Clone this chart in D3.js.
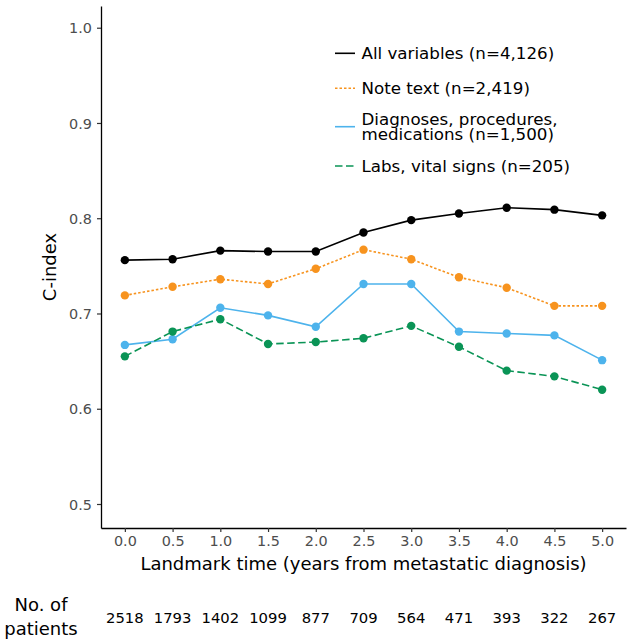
<!DOCTYPE html>
<html>
<head>
<meta charset="utf-8">
<script src="https://cdn.jsdelivr.net/npm/d3@7"></script>
<style>
  body { margin: 0; background: #fff; }
  text { font-family: "DejaVu Sans", sans-serif; }
</style>
</head>
<body>
<div id="chart"></div>
<script>
// landmark times (years) and patients at risk
var landmarks = [0, 0.5, 1, 1.5, 2, 2.5, 3, 3.5, 4, 4.5, 5];
var patients = [2518, 1793, 1402, 1099, 877, 709, 564, 471, 393, 322, 267];

// C-index per model
var allVars   = [0.756, 0.757, 0.766, 0.765, 0.765, 0.785, 0.798, 0.805, 0.811, 0.809, 0.803];
var noteText  = [0.719, 0.728, 0.736, 0.731, 0.747, 0.767, 0.757, 0.738, 0.727, 0.708, 0.708];
var diagProc  = [0.667, 0.673, 0.706, 0.698, 0.686, 0.731, 0.731, 0.681, 0.679, 0.677, 0.651];
var labsVital = [0.655, 0.681, 0.694, 0.668, 0.670, 0.674, 0.687, 0.665, 0.640, 0.634, 0.620];

var seriesNames = [
  ["All variables (n=4,126)"],
  ["Note text (n=2,419)"],
  ["Diagnoses, procedures,", "medications (n=1,500)"],
  ["Labs, vital signs (n=205)"]
];
var yTicks = [0.5, 0.6, 0.7, 0.8, 0.9, 1.0];

var series = [
  { name: seriesNames[0], values: allVars,   color: "#000000", dash: null },
  { name: seriesNames[1], values: noteText,  color: "#F7931E", dash: "2.5,2" },
  { name: seriesNames[2], values: diagProc,  color: "#4DB3EC", dash: null },
  { name: seriesNames[3], values: labsVital, color: "#0A9456", dash: "7.5,3.5" }
];

var svgWidth = 633;
var svgHeight = 644;

var svg = d3.select("#chart")
  .append("svg")
  .attr("width", svgWidth)
  .attr("height", svgHeight);

// plot panel edges, in pixels
var panel = { left: 101, right: 626, top: 6, bottom: 528 };

var x = d3.scaleLinear()
  .domain([-0.25, 5.25])
  .range([panel.left, panel.right]);

var y = d3.scaleLinear()
  .domain([0.4748, 1.0228])
  .range([panel.bottom, panel.top]);

// axes
var xAxis = svg.append("g")
  .attr("transform", `translate(0, ${panel.bottom})`)
  .call(d3.axisBottom(x).tickValues(landmarks).tickFormat(d3.format(".1f"))
    .tickSizeInner(4).tickSizeOuter(0).tickPadding(4));

var yAxis = svg.append("g")
  .attr("transform", `translate(${panel.left}, 0)`)
  .call(d3.axisLeft(y).tickValues(yTicks).tickFormat(d3.format(".1f"))
    .tickSizeInner(4).tickSizeOuter(0).tickPadding(5));

[xAxis, yAxis].forEach(function(g) {
  g.select(".domain").attr("stroke", "#000").attr("stroke-width", 1.3);
  g.selectAll(".tick line").attr("stroke", "#333").attr("stroke-width", 1.2);
  g.selectAll(".tick text")
    .attr("fill", "#4d4d4d")
    .style("font-size", "14.4px")
    .style("font-family", "DejaVu Sans");
});
xAxis.selectAll(".tick text").attr("dy", "0.71em");
yAxis.selectAll(".tick text").attr("dy", "0.36em");

// axis titles
svg.append("text")
  .attr("x", (panel.left + panel.right) / 2)
  .attr("y", 570)
  .attr("text-anchor", "middle")
  .style("font-size", "18px")
  .text("Landmark time (years from metastatic diagnosis)");

svg.append("text")
  .attr("transform", `translate(56, ${(panel.top + panel.bottom) / 2}) rotate(-90)`)
  .attr("text-anchor", "middle")
  .style("font-size", "18px")
  .text("C-index");

// lines and points
var line = d3.line()
  .x((d, i) => x(landmarks[i]))
  .y(d => y(d));

series.forEach(function(s) {
  svg.append("path")
    .datum(s.values)
    .attr("fill", "none")
    .attr("stroke", s.color)
    .attr("stroke-width", 1.6)
    .attr("stroke-dasharray", s.dash)
    .attr("d", line);

  svg.selectAll(null)
    .data(s.values)
    .enter()
    .append("circle")
    .attr("cx", (d, i) => x(landmarks[i]))
    .attr("cy", d => y(d))
    .attr("r", 4.2)
    .attr("fill", s.color);
});

// legend
var legendRows = [53.3, 88.3, 126.7, 166];
series.forEach(function(s, i) {
  var cy = legendRows[i];
  svg.append("line")
    .attr("x1", 335).attr("x2", 355)
    .attr("y1", cy).attr("y2", cy)
    .attr("stroke", s.color)
    .attr("stroke-width", 1.6)
    .attr("stroke-dasharray", s.dash);

  var n = s.name.length;
  var t = svg.append("text")
    .attr("x", 361.5)
    .attr("y", cy - (n - 1) * 7.5)
    .style("font-size", "16.7px");
  s.name.forEach(function(part, j) {
    t.append("tspan")
      .attr("x", 361.5)
      .attr("dy", j === 0 ? "0.36em" : "15px")
      .text(part);
  });
});

// patients-at-risk row
svg.append("text")
  .attr("x", 41)
  .attr("y", 610.5)
  .attr("text-anchor", "middle")
  .style("font-size", "18px")
  .text("No. of");
svg.append("text")
  .attr("x", 41)
  .attr("y", 635)
  .attr("text-anchor", "middle")
  .style("font-size", "18px")
  .text("patients");

svg.selectAll(null)
  .data(patients)
  .enter()
  .append("text")
  .attr("x", (d, i) => x(landmarks[i]))
  .attr("y", 623)
  .attr("text-anchor", "middle")
  .style("font-size", "14.8px")
  .text(d => d);
</script>
</body>
</html>
